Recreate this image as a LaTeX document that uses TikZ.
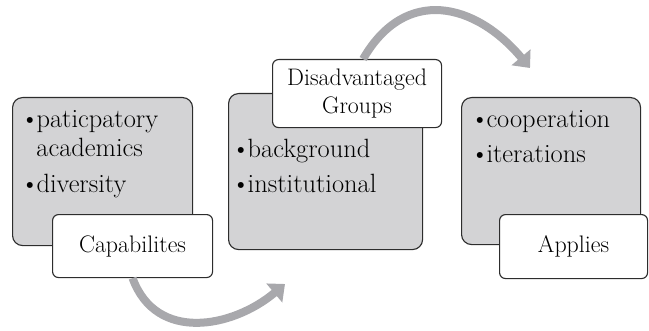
\documentclass[tikz,border=0pt]{standalone}
\usepackage{tikz}
\usetikzlibrary{positioning,arrows.meta,calc}
\definecolor{boxgray}{RGB}{211,211,213}
\definecolor{arcgray}{RGB}{168,168,172}
\definecolor{edge}{RGB}{45,45,45}

\begin{document}
\begin{tikzpicture}[
    itembox/.style={draw=edge, line width=0.8pt, fill=boxgray, rounded corners=0.25cm, anchor=north west, inner sep=0pt},
    tagbox/.style={draw=edge, line width=0.8pt, fill=white, rounded corners=0.15cm, anchor=north west, inner sep=0pt, align=center, font=\fontsize{17}{19.5}\selectfont},
    items/.style={anchor=base west, inner sep=0pt, font=\fontsize{18.8}{21.3}\selectfont},
    cycle arrow/.style={arcgray, line width=0.2cm, -{Triangle[width=0.6cm,length=0.35cm]}}
  ]
    \useasboundingbox (0,0) rectangle (16.225,8.25);

    % Boites grises
    \node[itembox, minimum width=4.5cm, minimum height=3.7cm] (box1) at (0.3,5.825) {};
    \node[itembox, minimum width=4.85cm, minimum height=3.9cm] (box2) at (5.7,5.925) {};
    \node[itembox, minimum width=4.475cm, minimum height=3.675cm] (box3) at (11.525,5.825) {};

    % Listes
    \node[items] (list1) at (0.5,5.075) {
        \begin{tabular}[t]{@{}l@{\hspace{-2pt}}l@{}}
        \textbullet & paticpatory \\
                    & academics \\[4pt]
        \textbullet & diversity
        \end{tabular}
    };
    \node[items] (list2) at (5.78,4.325) {
        \begin{tabular}[t]{@{}l@{\hspace{-2pt}}l@{}}
        \textbullet & background \\[4pt]
        \textbullet & institutional
        \end{tabular}
    };
    \node[items] (list3) at (11.75,5.075) {
        \begin{tabular}[t]{@{}l@{\hspace{-2pt}}l@{}}
        \textbullet & cooperation \\[4pt]
        \textbullet & iterations
        \end{tabular}
    };

    % Etiquettes
    \node[tagbox, minimum width=4.0cm, minimum height=1.575cm] (lab1) at (1.3,2.9) {Capabilites};
    \node[tagbox, minimum width=4.225cm, minimum height=1.7cm] (lab2) at (6.8,6.775) {Disadvantaged\\Groups};
    \node[tagbox, minimum width=3.7cm, minimum height=1.6cm] (lab3) at (12.475,2.9) {Applies};

    % Fleches
    \coordinate (tip1) at (7.125,1.15);
    \coordinate (tip2) at (13.25,6.55);
    \draw[cycle arrow] (lab1.south) to[out=-70, in=220, looseness=1.15] (tip1);
    \draw[cycle arrow] ([xshift=0.15cm]lab2.north) to[out=60, in=130, looseness=1.3] (tip2);
\end{tikzpicture}
\end{document}
